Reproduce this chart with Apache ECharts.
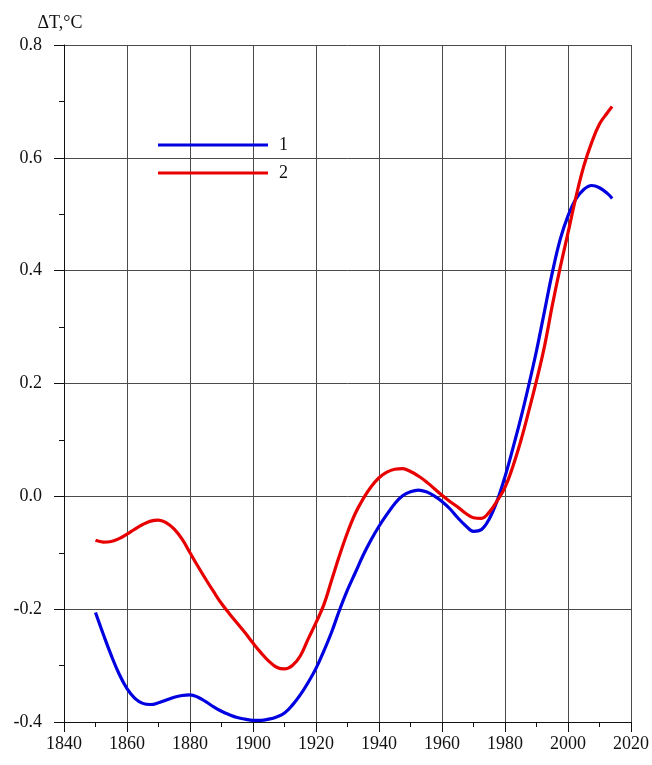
<!DOCTYPE html>
<html>
<head>
<meta charset="utf-8">
<script src="https://cdn.jsdelivr.net/npm/echarts@6/dist/echarts.min.js"></script>
<style>
  html, body { margin: 0; padding: 0; background: #fff; }
  #chart { width: 652px; height: 765px; }
</style>
</head>
<body>
<div id="chart"></div>
<script>
// Temperature anomaly curves: years and ΔT values for curve 1 and curve 2
const years1 = [1850, 1852.5, 1855, 1857.5, 1860, 1862.5, 1865, 1867.5, 1870, 1872.5, 1875, 1877.5, 1880, 1882.5, 1885, 1887.5, 1890, 1892.5, 1895, 1897.5, 1900, 1902.5, 1905, 1907.5, 1910, 1912.5, 1915, 1917.5, 1920, 1922.5, 1925, 1927.5, 1930, 1932.5, 1935, 1937.5, 1940, 1942.5, 1945, 1947.5, 1950, 1952.5, 1955, 1957.5, 1960, 1962.5, 1965, 1967.5, 1970, 1972.5, 1975, 1977.5, 1980, 1982.5, 1985, 1987.5, 1990, 1992.5, 1995, 1997.5, 2000, 2002.5, 2005, 2007.5, 2010, 2012.5, 2014];
const values1 = [-0.206, -0.245, -0.282, -0.315, -0.341, -0.358, -0.367, -0.369, -0.366, -0.361, -0.356, -0.353, -0.352, -0.356, -0.364, -0.373, -0.381, -0.387, -0.392, -0.395, -0.397, -0.397, -0.395, -0.391, -0.384, -0.370, -0.352, -0.330, -0.305, -0.274, -0.240, -0.201, -0.166, -0.135, -0.104, -0.077, -0.053, -0.032, -0.013, 0.001, 0.008, 0.011, 0.008, 0.001, -0.009, -0.022, -0.038, -0.052, -0.062, -0.059, -0.040, -0.008, 0.035, 0.085, 0.138, 0.196, 0.258, 0.327, 0.396, 0.455, 0.497, 0.527, 0.544, 0.551, 0.547, 0.537, 0.528];

const years2 = years1;
const values2 = [-0.078, -0.081, -0.080, -0.075, -0.067, -0.058, -0.050, -0.044, -0.042, -0.047, -0.058, -0.076, -0.100, -0.124, -0.147, -0.169, -0.190, -0.208, -0.225, -0.242, -0.260, -0.277, -0.292, -0.303, -0.306, -0.300, -0.283, -0.253, -0.224, -0.192, -0.148, -0.104, -0.064, -0.030, -0.004, 0.017, 0.033, 0.043, 0.048, 0.049, 0.044, 0.036, 0.026, 0.014, 0.002, -0.009, -0.019, -0.030, -0.038, -0.039, -0.028, -0.008, 0.016, 0.053, 0.098, 0.150, 0.205, 0.265, 0.338, 0.405, 0.467, 0.530, 0.585, 0.627, 0.660, 0.680, 0.691];

const seriesNames = ['1', '2'];
const seriesColors = ['#0000e0', '#e80000'];

const xTicks = { min: 1840, max: 2020, step: 20 };
const yTicks = { min: -0.4, max: 0.8, step: 0.2 };
const yTitle = 'ΔT,°C';

const font = 'Liberation Serif, Times New Roman, serif';
const textColor = '#111';

function pairs(xs, ys) {
  return xs.map((x, i) => [x, ys[i]]);
}

const chart = echarts.init(document.getElementById('chart'), null, { renderer: 'canvas' });

chart.setOption({
  backgroundColor: '#ffffff',
  animation: false,
  grid: { left: 64, right: 20, top: 45, bottom: 43, containLabel: false },
  legend: {
    orient: 'vertical',
    left: 158,
    top: 136,
    padding: 0,
    icon: 'rect',
    itemWidth: 110,
    itemHeight: 3,
    itemGap: 10,
    textStyle: { fontFamily: font, fontSize: 18, color: textColor, lineHeight: 17, padding: [0, 0, 0, 6] },
    data: seriesNames
  },
  xAxis: {
    type: 'value',
    min: xTicks.min,
    max: xTicks.max,
    interval: xTicks.step,
    axisLine: { show: true, onZero: false, lineStyle: { color: '#111', width: 1 } },
    axisTick: { show: true, inside: false, length: 10, lineStyle: { color: '#111' } },
    minorTick: { show: true, splitNumber: 2, length: 5, lineStyle: { color: '#111' } },
    splitLine: { show: true, lineStyle: { color: '#4a4a4a', width: 1 } },
    axisLabel: { fontFamily: font, fontSize: 18, color: textColor, margin: 13, formatter: v => String(v) }
  },
  yAxis: {
    type: 'value',
    min: yTicks.min,
    max: yTicks.max,
    interval: yTicks.step,
    name: yTitle,
    nameLocation: 'end',
    nameGap: 13,
    nameTextStyle: { fontFamily: font, fontSize: 18, color: textColor, align: 'center', padding: [0, 8, 0, 0] },
    axisLine: { show: true, onZero: false, lineStyle: { color: '#111', width: 1 } },
    axisTick: { show: true, inside: false, length: 10, lineStyle: { color: '#111' } },
    minorTick: { show: true, splitNumber: 2, length: 5, lineStyle: { color: '#111' } },
    splitLine: { show: true, lineStyle: { color: '#4a4a4a', width: 1 } },
    axisLabel: { fontFamily: font, fontSize: 18, color: textColor, margin: 22, formatter: v => v.toFixed(1) }
  },
  series: [
    {
      name: seriesNames[0],
      type: 'line',
      data: pairs(years1, values1),
      smooth: 0.4,
      showSymbol: false,
      lineStyle: { color: seriesColors[0], width: 3.2 },
      itemStyle: { color: seriesColors[0] },
      z: 3
    },
    {
      name: seriesNames[1],
      type: 'line',
      data: pairs(years2, values2),
      smooth: 0.4,
      showSymbol: false,
      lineStyle: { color: seriesColors[1], width: 3.2 },
      itemStyle: { color: seriesColors[1] },
      z: 4
    }
  ]
});
</script>
</body>
</html>
